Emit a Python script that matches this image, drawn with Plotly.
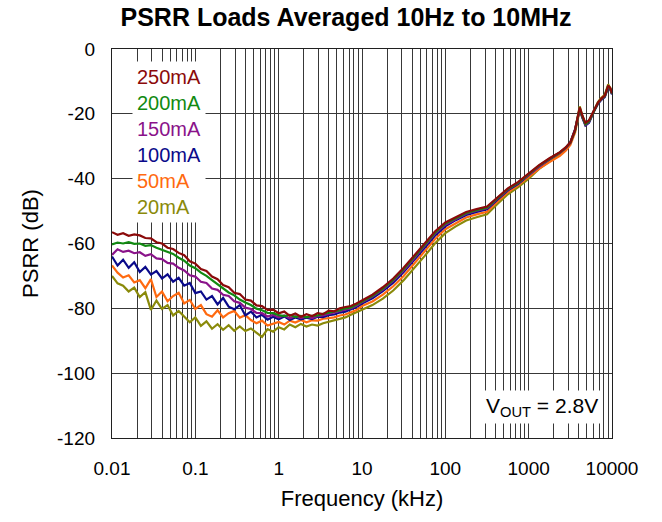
import plotly.graph_objects as go

# Frequency points (kHz)
freq_khz = [
    0.01, 0.01166, 0.01359, 0.01585, 0.01848, 0.02154, 0.02512, 0.02929, 0.03415, 0.03981,
    0.04642, 0.05412, 0.0631, 0.07356, 0.08577,
    0.1, 0.1166, 0.1359, 0.1585, 0.1848, 0.2154, 0.2512, 0.2929, 0.3415, 0.3981,
    0.4642, 0.5412, 0.631, 0.7356, 0.8577,
    1.0, 1.166, 1.359, 1.585, 1.848, 2.154, 2.512, 2.929, 3.415, 3.981,
    4.642, 5.412, 6.31, 7.356, 8.577,
    10, 13.34, 17.78, 23.71, 31.62, 42.17, 56.23, 74.99,
    100, 133.4, 177.8, 237.1, 316.2, 421.7, 562.3, 749.9,
    1000, 1334, 1778, 2371, 2800, 3162, 3600, 4100, 4400, 4800,
    5300, 6000, 6800, 7500, 8200, 9000, 9500, 10000,
]

psrr_250ma = [
    -56.5, -57.3, -56.8, -57.6, -57.2, -57.5, -58.3, -58.4, -59.6, -60.0,
    -61.3, -61.7, -62.9, -63.6, -65.5,
    -66.2, -67.9, -68.5, -70.2, -71.0, -72.8, -73.5, -75.2, -75.6, -77.3,
    -77.6, -79.1, -79.3, -80.5, -80.4,
    -81.5, -81.0, -82.3, -81.6, -82.6, -81.8, -82.4, -81.5, -81.8, -80.7,
    -80.9, -80.0, -79.6, -79.3, -78.5,
    -77.5, -75.8, -73.5, -70.8, -67.5, -63.8, -60.0, -56.3,
    -53.5, -51.8, -50.3, -49.4, -48.6, -45.8, -43.0, -41.0,
    -38.5, -35.8, -33.7, -31.8, -30.3, -28.8, -25.0, -18.0, -20.5, -22.8,
    -22.0, -19.0, -16.5, -15.2, -14.4, -11.3, -12.0, -13.6,
]

psrr_200ma = [
    -60.3, -59.7, -60.0, -59.6, -60.1, -60.0, -60.7, -60.5, -61.3, -61.9,
    -62.6, -63.2, -64.4, -65.3, -66.8,
    -67.6, -69.0, -70.0, -71.3, -72.6, -73.7, -75.1, -76.0, -77.3, -78.2,
    -79.0, -80.1, -80.6, -81.4, -81.5,
    -82.1, -82.4, -82.0, -82.7, -82.3, -82.8, -82.3, -82.2, -81.7, -81.4,
    -81.0, -80.6, -80.0, -79.7, -78.8,
    -77.8, -76.1, -73.9, -71.2, -67.9, -64.2, -60.4, -56.7,
    -53.8, -52.1, -50.6, -49.7, -48.9, -46.0, -43.2, -41.2,
    -38.7, -36.0, -33.8, -31.9, -30.4, -28.9, -25.2, -18.3, -20.8, -23.2,
    -22.3, -19.2, -16.6, -15.3, -14.5, -11.4, -12.1, -13.7,
]

psrr_150ma = [
    -63.5, -61.8, -62.6, -62.2, -63.0, -62.7, -63.8, -63.3, -64.6, -64.8,
    -66.0, -66.2, -67.5, -68.3, -69.8,
    -70.2, -71.8, -72.2, -73.9, -74.3, -75.8, -76.2, -77.8, -78.3, -79.8,
    -80.2, -81.4, -81.5, -82.5, -82.0,
    -82.8, -82.2, -83.1, -82.4, -83.0, -82.6, -83.0, -82.4, -82.2, -81.8,
    -81.4, -81.0, -80.6, -80.0, -79.2,
    -78.1, -76.4, -74.2, -71.5, -68.3, -64.6, -60.8, -57.0,
    -54.2, -52.4, -50.8, -49.9, -49.1, -46.2, -43.4, -41.3,
    -38.8, -36.1, -33.9, -32.0, -30.5, -29.0, -25.0, -18.5, -21.0, -23.4,
    -22.5, -19.3, -16.7, -15.4, -14.6, -11.6, -12.2, -13.8,
]

psrr_100ma = [
    -64.0, -66.8, -65.0, -67.5, -65.8, -68.8, -67.2, -69.6, -68.5, -70.8,
    -69.5, -71.8, -70.6, -73.0, -72.2,
    -75.3, -74.8, -77.3, -76.2, -78.8, -76.8, -79.5, -80.3, -79.0, -82.2,
    -81.0, -82.8, -82.0, -83.5, -82.6,
    -83.4, -82.5, -83.6, -82.8, -83.4, -82.9, -83.3, -82.6, -82.7, -82.1,
    -81.9, -81.3, -81.0, -80.4, -79.6,
    -78.5, -76.9, -74.7, -72.1, -68.8, -65.2, -61.4, -57.6,
    -54.7, -52.8, -51.2, -50.3, -49.4, -46.5, -43.6, -41.6,
    -39.0, -36.2, -34.0, -32.0, -30.4, -28.8, -24.8, -18.6, -21.2, -23.6,
    -22.8, -19.5, -16.9, -15.6, -14.8, -11.8, -12.4, -14.0,
]

psrr_50ma = [
    -66.8, -69.0, -70.5, -69.8, -72.0, -71.3, -73.8, -71.0, -76.5, -74.8,
    -77.8, -76.2, -75.2, -78.5, -77.4,
    -80.2, -79.0, -81.8, -82.6, -80.6, -82.8, -81.5, -80.8, -82.9, -82.1,
    -83.6, -84.6, -83.8, -85.3, -84.8,
    -84.2, -85.0, -83.8, -84.4, -83.6, -84.3, -83.7, -83.8, -83.2, -83.0,
    -82.8, -82.2, -81.9, -81.2, -80.5,
    -79.3, -77.9, -75.8, -73.2, -70.0, -66.3, -62.5, -58.7,
    -55.6, -53.7, -52.0, -51.0, -50.2, -47.1, -44.2, -42.0,
    -39.5, -36.9, -34.9, -33.0, -31.3, -29.6, -25.8, -18.8, -21.0, -23.3,
    -22.4, -19.2, -16.5, -15.2, -14.3, -11.5, -12.0, -13.6,
]

psrr_20ma = [
    -70.0, -72.3, -73.0, -74.8, -73.6, -76.5, -75.0, -80.5, -77.6, -80.2,
    -79.0, -82.2, -80.8, -82.5, -84.3,
    -82.8, -85.4, -84.0, -86.3, -84.9, -86.6, -85.2, -86.9, -85.6, -87.0,
    -86.2, -87.5, -88.8, -86.4, -87.2,
    -85.8, -86.5, -85.0, -85.8, -84.8, -85.6, -85.0, -85.3, -84.6, -84.2,
    -83.8, -83.2, -82.8, -82.0, -81.2,
    -80.3, -79.0, -77.0, -74.5, -71.3, -67.7, -63.9, -60.0,
    -56.8, -54.7, -52.9, -51.9, -51.0, -47.8, -44.8, -42.6,
    -40.0, -37.0, -34.6, -32.4, -30.7, -29.1, -25.0, -17.7, -20.5, -23.0,
    -22.2, -19.0, -16.3, -15.0, -14.1, -10.9, -12.0, -13.8,
]

series_labels = ["250mA", "200mA", "150mA", "100mA", "50mA", "20mA"]
series_colors = ["#8b0a0a", "#118a11", "#8a138a", "#0a0a8a", "#ff6a10", "#8a8a0a"]
series_values = [psrr_250ma, psrr_200ma, psrr_150ma, psrr_100ma, psrr_50ma, psrr_20ma]

x_tick_vals = [0.01, 0.1, 1, 10, 100, 1000, 10000]
x_tick_text = ["0.01", "0.1", "1", "10", "100", "1000", "10000"]
y_tick_vals = [0, -20, -40, -60, -80, -100, -120]
y_tick_text = ["0", "-20", "-40", "-60", "-80", "-100", "-120"]

FONT = "Liberation Sans, Arial, sans-serif"
GRID = "#383838"

fig = go.Figure()
# draw lowest-load first so the higher loads sit on top as in the reference
for name, vals, col in reversed(list(zip(series_labels, series_values, series_colors))):
    fig.add_trace(go.Scatter(x=freq_khz, y=vals, mode="lines", name=name,
                             line=dict(color=col, width=2.2), showlegend=False))

minor_vals = [m * 10.0 ** e for e in range(-2, 4) for m in range(2, 10)]

fig.update_layout(
    width=662, height=522,
    template="none",
    paper_bgcolor="white", plot_bgcolor="white",
    margin=dict(l=112, r=50, t=49, b=84, autoexpand=False),
    font=dict(family=FONT, size=19, color="black"),
    title=dict(text="PSRR Loads Averaged 10Hz to 10MHz",
               font=dict(family=FONT, size=25, color="black", weight="bold"),
               x=0.5227, xanchor="center", xref="container", y=0.967, yanchor="middle"),
    xaxis=dict(type="log", range=[-2, 4], tickvals=x_tick_vals, ticktext=x_tick_text,
               showgrid=True, gridcolor=GRID, gridwidth=1.3, ticks="",
               showline=True, linecolor="#202020", linewidth=1.3, mirror=True,
               ticklabelstandoff=13, automargin=False,
               minor=dict(tickvals=minor_vals, showgrid=True, gridcolor=GRID, gridwidth=1.3, ticks=""),
               title=dict(text="Frequency (kHz)", font=dict(size=22), standoff=12)),
    yaxis=dict(range=[-120, 0], tickvals=y_tick_vals, ticktext=y_tick_text,
               showgrid=True, gridcolor=GRID, gridwidth=1.3,
               ticks="", zeroline=False, showline=True, linecolor="#202020", linewidth=1.3, mirror=True,
               ticklabelstandoff=12, automargin=False,
               title=dict(text="PSRR (dB)", font=dict(size=22), standoff=12)),
)

legend_text = "<br>".join(
    f"<span style='color:{c}'>{n}</span>" for n, c in zip(series_labels, series_colors))
fig.add_annotation(text=legend_text, xref="paper", yref="paper", x=0.04, y=0.97,
                   xanchor="left", yanchor="top", align="left", showarrow=False,
                   font=dict(family=FONT, size=20), bgcolor="white", borderpad=4,
                   borderwidth=1, bordercolor="rgba(0,0,0,0)")
fig.add_annotation(text="V<sub>OUT</sub> = 2.8V", xref="paper", yref="paper", x=0.86, y=0.08,
                   xanchor="center", yanchor="middle", showarrow=False,
                   font=dict(family=FONT, size=21, color="black"), bgcolor="white", borderpad=3)

# remove the browser's default 8 px page margin so the figure sits at the window's corner
fig.write_html("out.html", config={"displayModeBar": False},
               post_script="document.body.style.margin='0px';")
